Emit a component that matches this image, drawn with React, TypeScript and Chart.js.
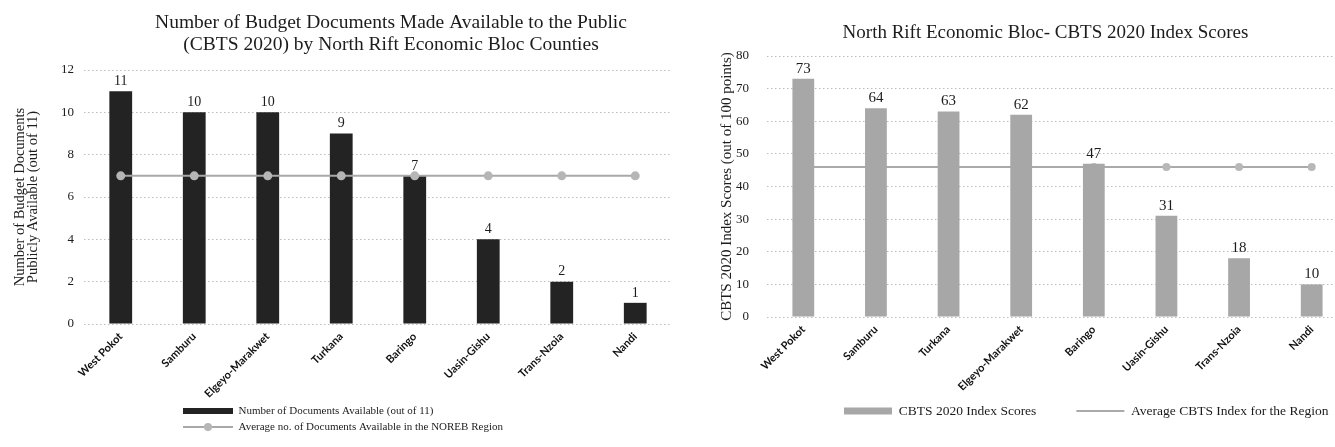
import React, { useEffect, useRef } from "react";
import { Chart, registerables } from "chart.js";

Chart.register(...registerables);

// ---------- Left chart data ----------
const docCounties = ["West Pokot", "Samburu", "Elgeyo-Marakwet", "Turkana", "Baringo", "Uasin-Gishu", "Trans-Nzoia", "Nandi"];
const docsAvailable = [11, 10, 10, 9, 7, 4, 2, 1];
const docsRegionAverage = [7, 7, 7, 7, 7, 7, 7, 7];
const docTitle = ["Number of Budget Documents Made Available to the Public", "(CBTS 2020) by North Rift Economic Bloc Counties"];
const docAxisTitle = ["Number of Budget Documents", "Publicly Available (out of 11)"];
const docSeriesNames = ["Number of Documents Available (out of 11)", "Average no. of Documents Available in the NOREB Region"];
const docAxisRange = [0, 12, 2];

// ---------- Right chart data ----------
const scoreCounties = ["West Pokot", "Samburu", "Turkana", "Elgeyo-Marakwet", "Baringo", "Uasin-Gishu", "Trans-Nzoia", "Nandi"];
const indexScores = [73, 64, 63, 62, 47, 31, 18, 10];
const indexRegionAverage = [46, 46, 46, 46, 46, 46, 46, 46];
const scoreTitle = "North Rift Economic Bloc- CBTS 2020 Index Scores";
const scoreAxisTitle = "CBTS 2020 Index Scores (out of 100 points)";
const scoreSeriesNames = ["CBTS 2020 Index Scores", "Average CBTS Index for the Region"];
const scoreAxisRange = [0, 80, 10];

const SERIF = "'Liberation Serif', 'DejaVu Serif', serif";
const SANS = "Lato, 'Liberation Sans', sans-serif";
const TEXT = "#1c1c1c";
const GRID = "#bdbdbd";

const valueLabels = (datasetIndex: number, size: number) => ({
  id: "valueLabels",
  afterDatasetsDraw(chart: any) {
    const meta = chart.getDatasetMeta(datasetIndex);
    const values = chart.data.datasets[datasetIndex].data;
    const ctx = chart.ctx;
    ctx.save();
    ctx.font = `${size}px ${SERIF}`;
    ctx.fillStyle = TEXT;
    ctx.textAlign = "center";
    ctx.textBaseline = "middle";
    meta.data.forEach((el: any, i: number) => {
      ctx.fillText(String(values[i]), el.x, el.y - 10);
    });
    ctx.restore();
  },
});

// Places the legend rows at a given start x / first-row centre y.
const placeLegend = (startX: number, rowY: number, wrapWidth: number, marker?: { color: string; radius: number }) => ({
  id: "placeLegend",
  beforeDraw(chart: any) {
    const lg = chart.legend;
    if (!lg) return;
    const lab = lg.options.labels;
    const pad = lab.padding;
    const fs = lab.font.size;
    lg.left = startX - pad;
    lg.right = lg.left + wrapWidth;
    lg.top = rowY - pad - fs / 2;
  },
  afterDraw(chart: any) {
    if (!marker) return;
    const lg = chart.legend;
    const lab = lg.options.labels;
    const pad = lab.padding;
    const fs = lab.font.size;
    const ctx = chart.ctx;
    ctx.save();
    ctx.fillStyle = marker.color;
    ctx.beginPath();
    ctx.arc(lg.left + pad + lab.pointStyleWidth / 2, lg.top + pad + (fs + pad) + fs / 2, marker.radius, 0, Math.PI * 2);
    ctx.fill();
    ctx.restore();
  },
});

const legendLabels = (chart: any) => {
  const items = (Chart.defaults.plugins.legend.labels as any).generateLabels(chart);
  items.forEach((it: any) => {
    const ds = chart.data.datasets[it.datasetIndex];
    if (ds.type === "line") {
      it.pointStyle = "line";
      it.lineWidth = ds.borderWidth;
      it.strokeStyle = ds.borderColor;
    } else {
      it.pointStyle = "rect";
      it.lineWidth = 0;
    }
  });
  return items;
};

const xTicks = {
  maxRotation: 45,
  minRotation: 45,
  autoSkip: false,
  padding: 6,
  color: "#111",
  font: { family: SANS, weight: "bold", size: 11 },
};

function leftConfig(): any {
  return {
    type: "bar",
    data: {
      labels: docCounties,
      datasets: [
        {
          type: "bar",
          label: docSeriesNames[0],
          data: docsAvailable,
          backgroundColor: "#232323",
          borderWidth: 0,
          barPercentage: 0.31,
          categoryPercentage: 1,
          order: 1,
        },
        {
          type: "line",
          label: docSeriesNames[1],
          data: docsRegionAverage,
          borderColor: "#a8a8a8",
          borderWidth: 2,
          pointRadius: 4.5,
          pointBackgroundColor: "#b6b6b6",
          pointBorderColor: "#b6b6b6",
          pointBorderWidth: 0,
          order: 0,
        },
      ],
    },
    options: {
      responsive: false,
      animation: false,
      devicePixelRatio: 1,
      layout: { padding: 0 },
      scales: {
        x: {
          grid: { display: false, drawTicks: false },
          border: { display: false },
          ticks: xTicks,
          afterFit: (s: any) => { s.height = 103; },
        },
        y: {
          min: docAxisRange[0],
          max: docAxisRange[1],
          ticks: { stepSize: docAxisRange[2], padding: 10, color: TEXT, font: { family: SERIF, size: 13 } },
          grid: { color: GRID, drawTicks: false },
          border: { display: false, dash: [1.5, 2.5] },
          title: { display: true, text: docAxisTitle, color: TEXT, font: { family: SERIF, size: 14.5, lineHeight: 13 / 14.5 }, padding: { top: 13.5, bottom: 0 } },
          afterFit: (s: any) => { s.width = 84; },
        },
        pad: {
          position: "right",
          display: true,
          grid: { display: false },
          ticks: { display: false },
          border: { display: false },
          afterFit: (s: any) => { s.width = 110; },
        },
      },
      plugins: {
        title: { display: true, text: docTitle, color: TEXT, font: { family: SERIF, size: 19.5, weight: "normal", lineHeight: 22 / 19.5 }, padding: { top: 12, bottom: 14 } },
        legend: {
          position: "bottom",
          align: "start",
          fullSize: false,
          maxHeight: 20,
          labels: {
            usePointStyle: true,
            pointStyleWidth: 50,
            boxHeight: 6,
            padding: 5,
            color: TEXT,
            font: { family: SERIF, size: 11 },
            sort: (a: any, b: any) => a.datasetIndex - b.datasetIndex,
            generateLabels: legendLabels,
          },
        },
        tooltip: { enabled: false },
      },
    },
    plugins: [valueLabels(0, 14), placeLegend(183, 411, 330, { color: "#b6b6b6", radius: 4 })],
  };
}

function rightConfig(): any {
  return {
    type: "bar",
    data: {
      labels: scoreCounties,
      datasets: [
        {
          type: "bar",
          label: scoreSeriesNames[0],
          data: indexScores,
          backgroundColor: "#a7a7a7",
          borderWidth: 0,
          barPercentage: 0.3,
          categoryPercentage: 1,
          order: 0,
        },
        {
          type: "line",
          label: scoreSeriesNames[1],
          data: indexRegionAverage,
          borderColor: "#8e8e8e",
          borderWidth: 1.5,
          pointRadius: 4,
          pointBackgroundColor: "#b8b8b8",
          pointBorderColor: "#b8b8b8",
          pointBorderWidth: 0,
          order: 1,
        },
      ],
    },
    options: {
      responsive: false,
      animation: false,
      devicePixelRatio: 1,
      layout: { padding: 0 },
      scales: {
        x: {
          grid: { display: false, drawTicks: false },
          border: { display: false },
          ticks: xTicks,
          afterFit: (s: any) => { s.height = 110; },
        },
        y: {
          min: scoreAxisRange[0],
          max: scoreAxisRange[1],
          ticks: { stepSize: scoreAxisRange[2], padding: 18, color: TEXT, font: { family: SERIF, size: 13 } },
          grid: { color: GRID, drawTicks: false },
          border: { display: false, dash: [1.5, 2.5] },
          title: { display: true, text: scoreAxisTitle, color: TEXT, font: { family: SERIF, size: 15, lineHeight: 1 }, padding: { top: 19.5, bottom: 0 } },
          afterFit: (s: any) => { s.width = 67; },
        },
        pad: {
          position: "right",
          display: true,
          grid: { display: false },
          ticks: { display: false },
          border: { display: false },
          afterFit: (s: any) => { s.width = 43; },
        },
      },
      plugins: {
        title: { display: true, text: scoreTitle, color: TEXT, font: { family: SERIF, size: 19, weight: "normal", lineHeight: 22 / 19 }, padding: { top: 22, bottom: 12 } },
        legend: {
          position: "bottom",
          align: "start",
          maxHeight: 20,
          labels: {
            usePointStyle: true,
            pointStyleWidth: 48,
            boxHeight: 7,
            padding: 40,
            color: TEXT,
            font: { family: SERIF, size: 13.5 },
            sort: (a: any, b: any) => a.datasetIndex - b.datasetIndex,
            generateLabels: legendLabels,
          },
        },
        tooltip: { enabled: false },
      },
    },
    plugins: [valueLabels(0, 15), placeLegend(144, 411, 2000)],
  };
}

export default function App() {
  const leftRef = useRef<HTMLCanvasElement>(null);
  const rightRef = useRef<HTMLCanvasElement>(null);
  useEffect(() => {
    const c1 = new Chart(leftRef.current as HTMLCanvasElement, leftConfig());
    const c2 = new Chart(rightRef.current as HTMLCanvasElement, rightConfig());
    return () => {
      c1.destroy();
      c2.destroy();
    };
  }, []);
  return (
    <div style={{ position: "fixed", left: 0, top: 0, width: 1335, height: 447, overflow: "hidden", background: "#fff" }}>
      <div style={{ position: "absolute", left: 0, top: 0, width: 782, height: 447 }}>
        <canvas ref={leftRef} width={782} height={447} />
      </div>
      <div style={{ position: "absolute", left: 700, top: 0, width: 691, height: 447 }}>
        <canvas ref={rightRef} width={691} height={447} />
      </div>
    </div>
  );
}
